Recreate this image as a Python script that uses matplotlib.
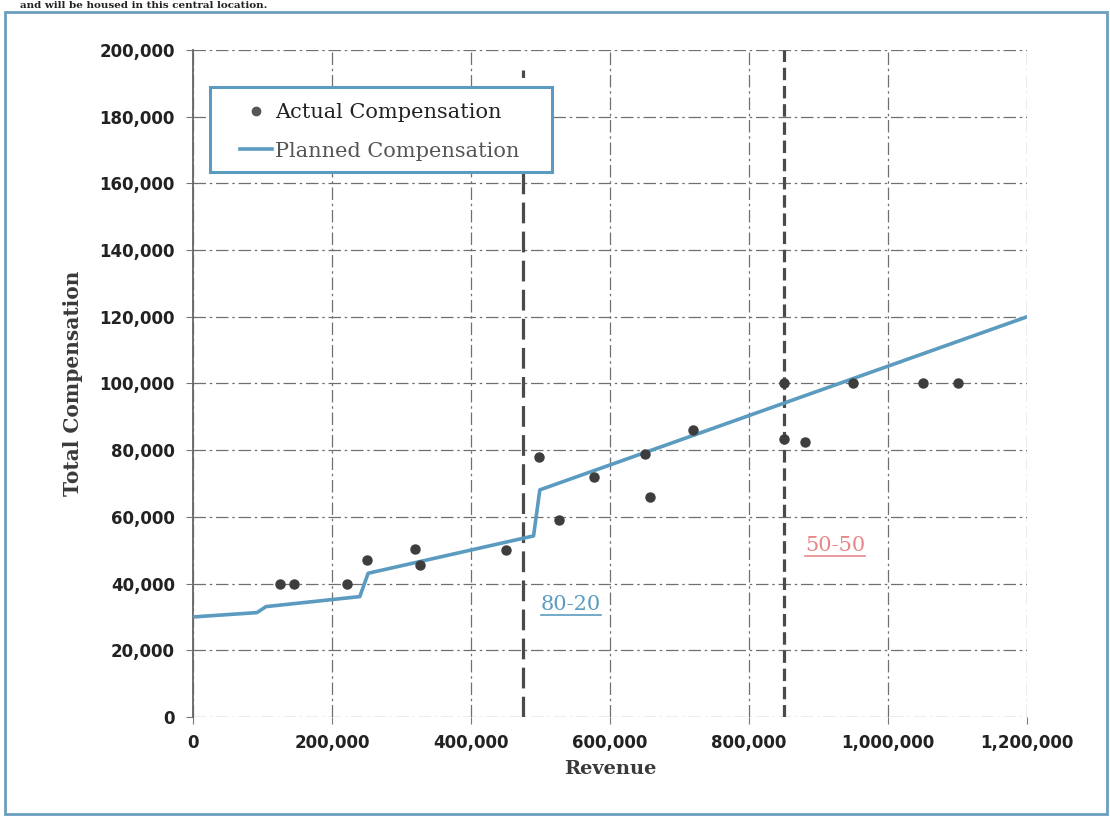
"""
Revenue vs. total compensation chart (actual points vs. planned plan curve)
"""

import matplotlib
matplotlib.use('Agg')
import matplotlib.pyplot as plt
from matplotlib.lines import Line2D
from matplotlib.patches import Rectangle
from matplotlib.ticker import FuncFormatter

# Actual compensation (revenue, total compensation)
actual_revenue = [125000, 146000, 221000, 251000, 319000, 326000, 450000, 498000,
                  527000, 577000, 650000, 658000, 720000, 850000, 850000, 880000,
                  950000, 1050000, 1100000]
actual_comp = [40000, 40000, 40000, 47000, 50500, 45500, 50000, 78000,
               59000, 72000, 79000, 66000, 86000, 100000, 83500, 82500,
               100000, 100000, 100000]

# Planned compensation curve
planned_revenue = [0, 92000, 105000, 240000, 252000, 490000, 499000, 1200000]
planned_comp = [30000, 31300, 33100, 36100, 43100, 54300, 68100, 120000]

# Split thresholds
split_revenue = [475000, 850000]
split_labels = ['80-20', '50-50']
split_label_pos = [(544000, 33600), (924000, 51500)]

BLUE = '#5b9bc0'
DARK = '#3d3d3d'

fig = plt.figure(figsize=(11.1, 8.16), dpi=100)
ax = fig.add_axes([193 / 1110, 1 - 717 / 816, 834 / 1110, 667 / 816])

ax.set_xlim(0, 1200000)
ax.set_ylim(0, 200000)
ax.set_xticks(range(0, 1200001, 200000))
ax.set_yticks(range(0, 200001, 20000))
fmt = FuncFormatter(lambda v, p: f'{int(v):,}')
ax.xaxis.set_major_formatter(fmt)
ax.yaxis.set_major_formatter(fmt)

ax.grid(True, color='#707070', linewidth=0.9, linestyle=(0, (10, 3, 2, 3)))
ax.set_axisbelow(True)
for side in ['top', 'right', 'bottom']:
    ax.spines[side].set_visible(False)
ax.spines['left'].set_color('#666666')
ax.spines['left'].set_linewidth(1.3)

ax.tick_params(axis='both', length=5, color='#777777', labelcolor='#222222')
ax.tick_params(axis='y', pad=8)
ax.tick_params(axis='x', pad=7)
for lab in ax.get_xticklabels() + ax.get_yticklabels():
    lab.set_fontfamily('DejaVu Sans')
    lab.set_fontweight('bold')
    lab.set_fontsize(12)

# Split thresholds
ax.axvline(split_revenue[0], ymax=0.97, color='#4a4a4a', linewidth=2.3,
           linestyle=(0, (6.5, 2.6)), zorder=2)
ax.axvline(split_revenue[1], color='#4a4a4a', linewidth=2.3, linestyle=(0, (3.9, 1.8)), zorder=2)

ax.plot(planned_revenue, planned_comp, color=BLUE, linewidth=2.6, zorder=3,
        label='Planned Compensation')
ax.plot(actual_revenue, actual_comp, linestyle='none', marker='o', markersize=6.5,
        color=DARK, zorder=4, label='Actual Compensation')

ax.set_xlabel('Revenue', fontsize=14, fontweight='bold', family='DejaVu Serif',
              color='#3a3a3a', labelpad=6)
ax.set_ylabel('Total Compensation', fontsize=14.5, fontweight='bold', family='DejaVu Serif',
              color='#3a3a3a', labelpad=12)

split_colors = [BLUE, '#e8878a']
split_texts = []
for lab, (px, py), col in zip(split_labels, split_label_pos, split_colors):
    t = ax.text(px, py, lab, color=col, fontsize=15, family='DejaVu Serif',
                ha='center', va='center', zorder=5)
    split_texts.append((t, col))

# legend: white box with blue frame, entries placed inside it
ax.add_patch(Rectangle(((210 - 193) / 834, (717 - 172) / 667), 342 / 834, 85 / 667,
                       transform=ax.transAxes, facecolor='white', edgecolor=BLUE,
                       linewidth=2.2, zorder=9))
handles = [Line2D([], [], linestyle='none', marker='o', markersize=6, color='#555555'),
           Line2D([], [], color=BLUE, linewidth=2.6)]
leg = ax.legend(handles, ['Actual Compensation', 'Planned Compensation'],
                loc='upper left', bbox_to_anchor=((240 - 193) / 834, (717 - 103) / 667),
                prop={'family': 'DejaVu Serif', 'size': 15}, frameon=False,
                handlelength=1.55, handletextpad=0.15, borderpad=0,
                labelspacing=0.95, borderaxespad=0)
leg.get_texts()[0].set_color('#222222')
leg.get_texts()[1].set_color('#555555')
leg.set_zorder(10)

# underline the split labels
fig.canvas.draw()
for t, col in split_texts:
    bb = t.get_window_extent()
    y = (bb.y0 - 1) / fig.bbox.height
    fig.add_artist(Line2D([bb.x0 / fig.bbox.width, bb.x1 / fig.bbox.width], [y, y],
                          color=col, linewidth=1.2))

# page clipping: border and the sentence above the figure
fig.text(20 / 1110, 1 - 1 / 816, 'and will be housed in this central location.',
         fontsize=7.5, fontweight='bold', family='DejaVu Serif', color='#222222',
         va='top', ha='left')
fig.add_artist(Rectangle((5 / 1110, 2 / 816), 1102 / 1110, 802 / 816,
                         transform=fig.transFigure, fill=False, edgecolor='#6a9fc0',
                         linewidth=2))

plt.savefig('out.png', dpi=100)
plt.close()
